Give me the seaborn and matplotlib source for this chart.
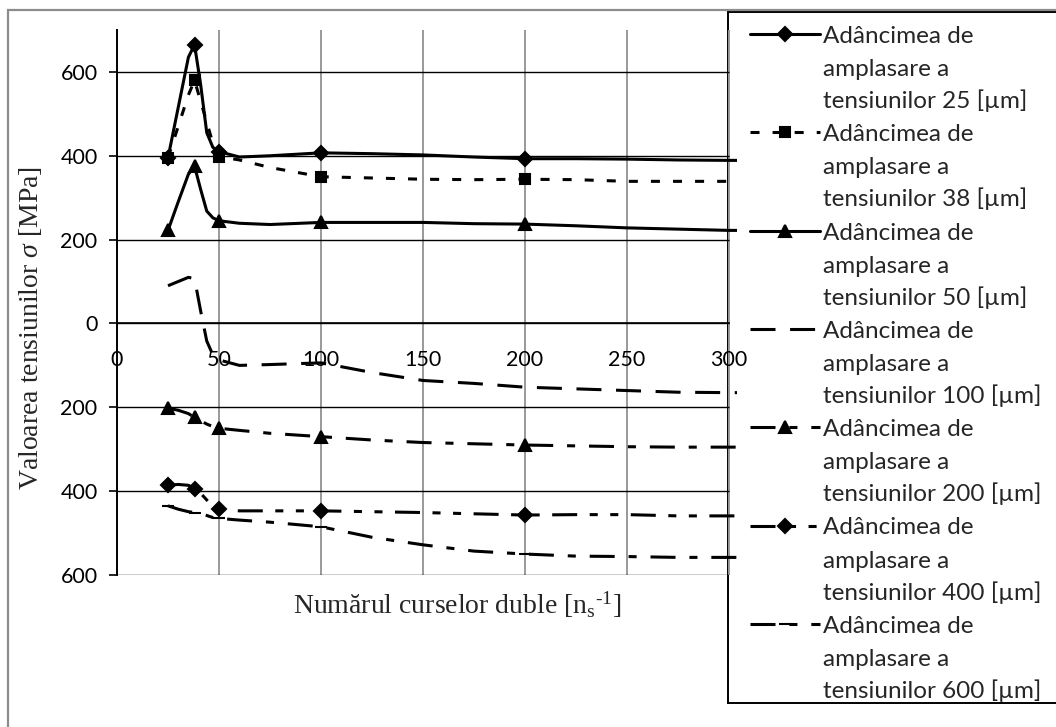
import matplotlib
matplotlib.use("Agg")
import matplotlib.pyplot as plt
from matplotlib.patches import Rectangle
from matplotlib.ticker import FuncFormatter
import seaborn as sns

ns = [25, 30, 35, 38, 41, 44, 47, 50, 60, 75, 100, 125, 150, 175, 200, 225, 250, 275, 300, 350]
measured = [25, 38, 50, 100, 200]

# Stress values [MPa] per depth
s25 = [395, 515, 635, 665, 570, 455, 420, 410, 397, 400, 407, 405, 402, 397, 393, 393, 392, 390, 389, 389]
s38 = [395, 470, 545, 580, 530, 480, 430, 398, 390, 372, 350, 347, 344, 343, 344, 343, 339, 339, 339, 339]
s50 = [222, 290, 356, 375, 320, 268, 252, 245, 239, 236, 241, 241, 241, 238, 237, 233, 228, 225, 222, 222]
s100 = [90, 100, 110, 107, 30, -42, -75, -87, -100, -98, -94, -117, -136, -143, -152, -156, -160, -164, -165, -165]
s200 = [-202, -207, -215, -224, -232, -240, -246, -250, -255, -262, -270, -278, -284, -287, -290, -292, -294, -295, -295, -295]
s400 = [-386, -384, -386, -394, -405, -421, -436, -443, -447, -447, -447, -449, -451, -454, -457, -456, -456, -459, -459, -459]
s600 = [-435, -443, -449, -451, -454, -458, -463, -465, -469, -474, -485, -510, -528, -543, -550, -555, -556, -558, -558, -558]

depths = ["25", "38", "50", "100", "200", "400", "600"]
series = [s25, s38, s50, s100, s200, s400, s600]

y_ticks = [-600, -400, -200, 0, 200, 400, 600]
x_ticks = [0, 50, 100, 150, 200, 250, 300]

# line style, marker, marker size for each depth (in the chart order)
styles = [
    ("-", "D", 7),
    ((0, (6.5, 9.4)), "s", 7),
    ("-", "^", 8.5),
    ((0, (18, 10.5)), "None", 0),
    ((0, (18, 10, 5.8, 10)), "^", 8.5),
    ((0, (18, 9, 5.8, 9, 5.8, 9)), "D", 7),
    ((0, (18, 10, 5.8, 10)), "_", 9),
]

W, H = 1056, 727
sns.set_style("white")
plt.rcParams["font.family"] = ["Lato", "DejaVu Sans"]
plt.rcParams["lines.scale_dashes"] = False
plt.rcParams["mathtext.fontset"] = "custom"
plt.rcParams["mathtext.rm"] = "Liberation Serif"
plt.rcParams["mathtext.it"] = "Liberation Serif:italic"

fig = plt.figure(figsize=(W / 100, H / 100), dpi=100)
fig.patch.set_facecolor("white")

# outer chart border
fig.patches.append(Rectangle((8 / W, 1 - 1.2), 1.1, 1.2 - 10 / H, transform=fig.transFigure,
                             fill=False, edgecolor="#8c8c8c", lw=1.6))

# legend box drawn in pixel coordinates (added first so the plot sits just over its edge)
lx0, lx1, ly0, ly1 = 728, 1062, 12, 703
lg = fig.add_axes([lx0 / W, 1 - ly1 / H, (lx1 - lx0) / W, (ly1 - ly0) / H])
lg.set_xlim(lx0, lx1)
lg.set_ylim(ly1, ly0)
lg.set_xticks([])
lg.set_yticks([])
lg.set_facecolor("white")
for sp in lg.spines.values():
    sp.set_color("black")
    sp.set_linewidth(1.4)

for i, (d, (ls, mk, ms)) in enumerate(zip(depths, styles)):
    base = 43 + 98.3 * i
    hy = base - 9
    lg.plot([750, 785, 820], [hy, hy, hy], color="black", lw=2.2, linestyle=ls,
            marker=mk, markersize=ms, markevery=[1], mec="black", mfc="black",
            mew=1.5, dash_capstyle="butt")
    for k, txt in enumerate(["Adâncimea de", "amplasare a", f"tensiunilor {d} [µm]"]):
        lg.text(823, base + [0, 33, 65][k], txt, ha="left", va="baseline", fontsize=17.5)

# plot area: x = 0 at px 117, 2.04 px per unit; y from -600 (px 575) to 700 (px 30)
xmax = (737 - 117) / 2.04
ax = fig.add_axes([117 / W, 1 - 575 / H, xmax * 2.04 / W, 545 / H])
ax.set_facecolor("none")
ax.set_xlim(0, xmax)
ax.set_ylim(-600, 700)

mark_idx = [ns.index(m) for m in measured]
for vals, (ls, mk, ms) in zip(series, styles):
    sns.lineplot(x=ns, y=vals, ax=ax, color="black", lw=2.2, linestyle=ls,
                 marker=mk, markersize=ms, markevery=mark_idx,
                 mec="black", mfc="black", mew=1.5, dash_capstyle="butt",
                 estimator=None, sort=False, legend=False)

ax.set_axisbelow(True)
ax.set_yticks(y_ticks)
ax.set_xticks(x_ticks)
ax.yaxis.set_major_formatter(FuncFormatter(lambda v, p: f"{abs(v):.0f}"))
# horizontal gridlines stop at the legend edge (x = 300)
ax.hlines(y_ticks, 0, 300, color="black", lw=1.0, zorder=0.6)
ax.grid(axis="x", color="#999999", lw=1.4)
for side in ["top", "right"]:
    ax.spines[side].set_visible(False)
ax.spines["left"].set_color("black")
ax.spines["left"].set_linewidth(1.4)
ax.spines["bottom"].set_position(("data", 0))
ax.spines["bottom"].set_bounds(0, 300)
ax.spines["bottom"].set_color("black")
ax.spines["bottom"].set_linewidth(1.2)
ax.tick_params(axis="y", left=True, length=6, width=1.2, color="black", pad=8,
               labelsize=15.5, labelcolor="black")
ax.tick_params(axis="x", bottom=False, length=0, pad=19, labelsize=15.5, labelcolor="black")
ax.set_xlabel("")
ax.set_ylabel("")

fig.text(31 / W, 1 - 328 / H, r"Valoarea tensiunilor $\sigma$ [MPa]", rotation=90,
         ha="center", va="center", fontsize=20, family="Liberation Serif")
fig.text(457 / W, 1 - 605 / H, r"Numărul curselor duble [n$_\mathrm{s}{}^\mathrm{‐1}$]",
         ha="center", va="center", fontsize=20, family="Liberation Serif")

fig.savefig("out.png", dpi=100)
